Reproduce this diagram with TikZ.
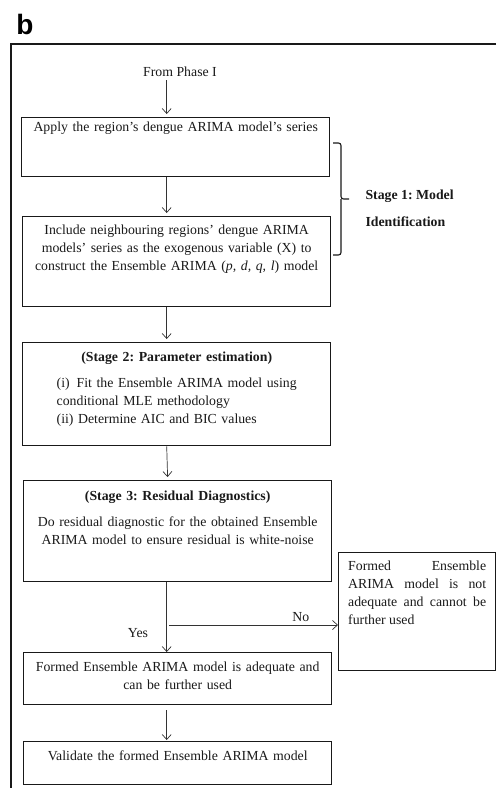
\documentclass[tikz,border=0pt]{standalone}
\usepackage{fontspec}
\setmainfont{Liberation Serif}
\newfontfamily\panelfont{Liberation Sans}
\usetikzlibrary{arrows.meta}
\frenchspacing

\begin{document}
\begin{tikzpicture}[x=1pt,y=-1pt,
  font=\fontsize{13.8}{18}\selectfont, text=black!90,
  stepbox/.style={draw=black!90, line width=1.4pt, anchor=north west, text width=300pt,
    align=center, inner xsep=4pt, inner ysep=4pt, text height=14pt},
  flow/.style={draw=black!80, line width=0.7pt, -{Straight Barb[length=5pt,width=9pt]}, shorten >=3pt}]

\useasboundingbox (0,0) rectangle (496,788);
\draw[line width=1.4pt, black!90] (496,44) -- (11,44) -- (11,788);

\node[font=\panelfont\bfseries\fontsize{28}{28}\selectfont, text=black] (panel) at (25,24) {b};

\node (phase) at (180,72) {From Phase I};
\node[stepbox, text height=10pt, text depth=41pt] (apply) at (21,117) {Apply the region's dengue ARIMA model's series};
\node[stepbox, text depth=68pt] (include) at (22,216) {Include neighbouring regions' dengue ARIMA\\
  models' series as the exogenous variable (X) to\\
  construct the Ensemble ARIMA (\textit{p, d, q, l}) model};

% stage 1 bracket
\draw[black!90, line width=1.1pt, rounded corners=2.5pt] (333,143) -- (341,143) -- (341,199) -- (349,199);
\draw[black!90, line width=1.1pt, rounded corners=2.5pt] (341,199) -- (341,255) -- (333,255);
\node[anchor=west, align=left, font=\fontsize{13.8}{18}\selectfont\bfseries] (stage) at (362,208) {Stage 1: Model\\[9pt]Identification};

\node[stepbox, text height=15pt, text depth=80pt] (estimate) at (22,342) {\textbf{(Stage 2: Parameter estimation)}\\[8pt]
  \begin{tabular}[t]{@{}l@{}}
  (i)\hspace{7pt}Fit the Ensemble ARIMA model using\\
  conditional MLE methodology\\
  (ii) Determine AIC and BIC values
  \end{tabular}\hspace{12pt}};
\node[stepbox, text height=16pt, text depth=77pt] (residual) at (23,480) {\textbf{(Stage 3: Residual Diagnostics)}\\[8pt]
  Do residual diagnostic for the obtained Ensemble\\
  ARIMA model to ensure residual is white-noise};
\node[stepbox, text height=15pt, text depth=29pt] (adequate) at (23,652) {Formed Ensemble ARIMA model is adequate and\\
  can be further used};
\node[stepbox, text height=15pt, text depth=20pt] (validate) at (23,741) {Validate the formed Ensemble ARIMA model};
\node[stepbox, text width=138pt, inner xsep=9.5pt, align=justify, text depth=96pt] (inadequate) at (338,552)
  {Formed Ensemble\linebreak ARIMA model is not\linebreak adequate and cannot be\linebreak further used};

% arrows
\draw[flow] ([xshift=-9pt]apply.north |- phase.south) -- ([xshift=-9pt]apply.north);
\draw[flow] ([xshift=-9pt]apply.south) -- ([xshift=-10pt]include.north);
\draw[flow] ([xshift=-10pt]include.south) -- ([xshift=-10pt]estimate.north);
\draw[flow] ([xshift=-10pt]estimate.south) -- ([xshift=-10pt]residual.north);
\draw[flow, shorten >=0pt] ([xshift=-11pt]residual.south) -- ([xshift=-11pt]adequate.north);
\draw[flow, shorten <=5pt, shorten >=1pt] ([xshift=-11pt]adequate.south) -- ([xshift=-11pt]validate.north);

\coordinate (split) at (169,625);
\draw[flow, shorten >=0pt] (split) -- (split -| inadequate.west) node[pos=0.78, above] (no) {No};
\node (yes) at (138,633) {Yes};

\end{tikzpicture}
\end{document}
